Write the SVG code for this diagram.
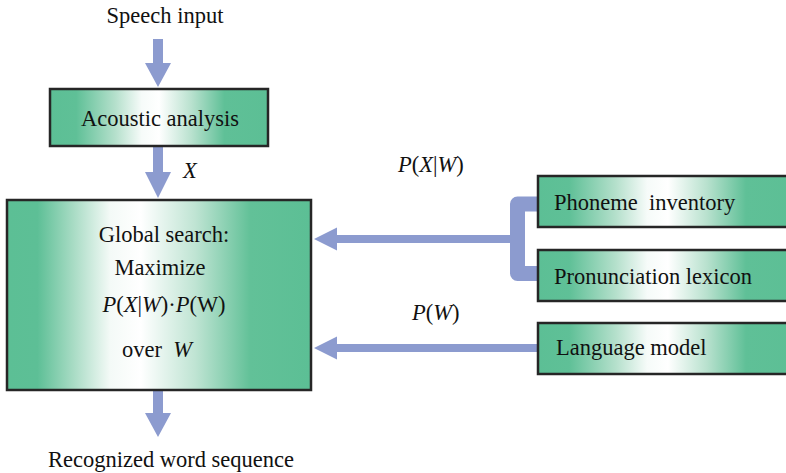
<svg xmlns="http://www.w3.org/2000/svg" width="786" height="473" viewBox="0 0 786 473">
<defs>
<linearGradient id="gMain" x1="0" y1="0" x2="1" y2="0">
<stop offset="0" stop-color="#5cbf95"/>
<stop offset="0.1" stop-color="#5dbf96"/>
<stop offset="0.22" stop-color="#a9dcc5"/>
<stop offset="0.34" stop-color="#f4faf7"/>
<stop offset="0.44" stop-color="#ffffff"/>
<stop offset="0.62" stop-color="#bfe4d3"/>
<stop offset="0.8" stop-color="#62c198"/>
<stop offset="1" stop-color="#5cbf95"/>
</linearGradient>
<linearGradient id="gSide" x1="0" y1="0" x2="1" y2="0">
<stop offset="0" stop-color="#5cbf95"/>
<stop offset="0.12" stop-color="#5fc097"/>
<stop offset="0.3" stop-color="#b5e0cc"/>
<stop offset="0.42" stop-color="#f6fbf9"/>
<stop offset="0.5" stop-color="#ffffff"/>
<stop offset="0.65" stop-color="#b8e1ce"/>
<stop offset="0.8" stop-color="#5fc097"/>
<stop offset="1" stop-color="#5cbf95"/>
</linearGradient>
</defs>
<style>
.box{stroke:#262626;stroke-width:2.5}
.arr{fill:#8c9bcf}
text{font-family:'Liberation Serif',serif;font-size:22.5px;fill:#111}
tspan.i{font-style:italic}
</style>
<g id="connectors">
<polygon class="arr" points="153,39 163,39 163,63 171,63 158,87 145,63 153,63"/>
<polygon class="arr" points="153,146 163,146 163,172 171,172 158,198 145,172 153,172"/>
<polygon class="arr" points="153,390 163,390 163,413 171,413 158,437 145,413 153,413"/>
<polygon class="arr" points="314,239 337,227.5 337,235 517,235 517,243 337,243 337,250.5"/>
<path d="M538,204 H517.5 V273.5 H538" fill="none" stroke="#8c9bcf" stroke-width="15" stroke-linejoin="round"/>
<polygon class="arr" points="314,348 337,336.5 337,344 540,344 540,352 337,352 337,359.5"/>
<text x="183" y="178"><tspan class="i">X</tspan></text>
<text x="398" y="172"><tspan class="i">P</tspan>(<tspan class="i">X</tspan>|<tspan class="i">W</tspan>)</text>
<text x="412" y="320"><tspan class="i">P</tspan>(<tspan class="i">W</tspan>)</text>
</g>
<g id="speech-input"><text x="165" y="23" text-anchor="middle">Speech input</text></g>
<g id="acoustic-analysis">
<rect class="box" x="50" y="89" width="218" height="57" fill="url(#gSide)"/>
<text x="160" y="126" text-anchor="middle">Acoustic analysis</text>
</g>
<g id="global-search">
<rect class="box" x="7" y="200" width="304" height="190" fill="url(#gMain)"/>
<text x="164" y="242" text-anchor="middle">Global search:</text>
<text x="160" y="275" text-anchor="middle">Maximize</text>
<text x="164" y="312" text-anchor="middle"><tspan class="i">P</tspan>(<tspan class="i">X</tspan>|<tspan class="i">W</tspan>)·<tspan class="i">P</tspan>(W)</text>
<text x="157" y="357" text-anchor="middle" xml:space="preserve">over  <tspan class="i">W</tspan></text>
</g>
<g id="recognized"><text x="171" y="467" text-anchor="middle">Recognized word sequence</text></g>
<g id="phoneme-inventory">
<rect class="box" x="538" y="176" width="260" height="51" fill="url(#gSide)"/>
<text x="554" y="210" xml:space="preserve">Phoneme  inventory</text>
</g>
<g id="pronunciation-lexicon">
<rect class="box" x="538" y="250" width="260" height="51" fill="url(#gSide)"/>
<text x="554" y="284">Pronunciation lexicon</text>
</g>
<g id="language-model">
<rect class="box" x="538" y="323" width="260" height="51" fill="url(#gSide)"/>
<text x="556" y="355">Language model</text>
</g>
</svg>
